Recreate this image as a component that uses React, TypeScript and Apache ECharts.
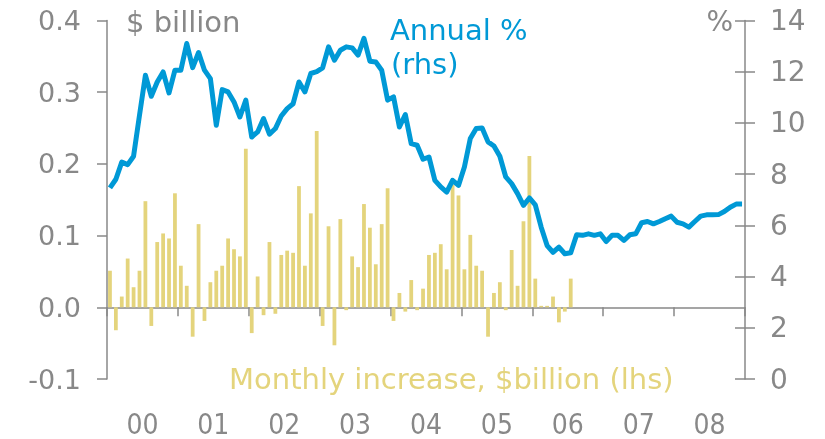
import React, { useEffect, useRef } from "react";
import * as echarts from "echarts";

const years = ["00", "01", "02", "03", "04", "05", "06", "07", "08"];
const months: string[] = [];
years.forEach((y) => {
  for (let m = 1; m <= 12; m++) months.push(`${y}-${m}`);
});

const monthlyIncrease = [
  0.051, -0.032, 0.015, 0.068, 0.028, 0.051, 0.148, -0.026, 0.091, 0.103, 0.096, 0.159,
  0.058, 0.03, -0.041, 0.116, -0.019, 0.035, 0.051, 0.058, 0.096, 0.081, 0.071, 0.221,
  -0.036, 0.043, -0.011, 0.091, -0.009, 0.073, 0.079, 0.076, 0.169, 0.058, 0.131, 0.246,
  -0.026, 0.113, -0.053, 0.123, -0.004, 0.071, 0.056, 0.144, 0.111, 0.06, 0.116, 0.166,
  -0.019, 0.02, -0.006, 0.038, -0.004, 0.026, 0.073, 0.076, 0.088, 0.053, 0.171, 0.156,
  0.053, 0.101, 0.058, 0.051, -0.041, 0.02, 0.035, -0.004, 0.08, 0.03, 0.12, 0.211,
  0.04, 0.002, 0.002, 0.015, -0.021, -0.006, 0.04,
];

const annualPct = [
  7.46, 7.8, 8.47, 8.37, 8.7, 10.3, 11.86, 11.04, 11.6, 11.99, 11.17, 12.06,
  12.06, 13.1, 12.16, 12.75, 12.06, 11.73, 9.91, 11.3, 11.21, 10.82, 10.23, 10.89,
  9.45, 9.65, 10.17, 9.56, 9.78, 10.27, 10.56, 10.75, 11.6, 11.21, 11.93, 12.0,
  12.15, 12.97, 12.45, 12.84, 12.97, 12.93, 12.65, 13.3, 12.41, 12.38, 12.06, 10.89,
  11.02, 9.84, 10.33, 9.19, 9.13, 8.58, 8.67, 7.76, 7.5, 7.3, 7.76, 7.56,
  8.28, 9.39, 9.78, 9.8, 9.26, 9.1, 8.7, 7.89, 7.63, 7.24, 6.78, 7.07,
  6.8, 5.93, 5.21, 4.95, 5.15, 4.89, 4.93, 5.63, 5.61, 5.67, 5.61, 5.67,
  5.37, 5.61, 5.61, 5.41, 5.63, 5.67, 6.1, 6.15, 6.06, 6.15, 6.26, 6.36,
  6.12, 6.06, 5.93, 6.15, 6.36, 6.41, 6.41, 6.42, 6.54, 6.71, 6.83, 6.83,
];

const GREY = "#888888";
const BLUE = "#0099D6";
const KHAKI = "#E4D47C";
const FONT = '"DejaVu Sans", Verdana, sans-serif';

export default function App() {
  const ref = useRef<HTMLDivElement>(null);
  useEffect(() => {
    if (!ref.current) return;
    const chart = echarts.init(ref.current, undefined, { renderer: "svg" });
    chart.setOption({
      animation: false,
      grid: { left: 107, right: 80, top: 20.5, bottom: 60, containLabel: false },
      xAxis: [
        {
          type: "category",
          data: months,
          boundaryGap: true,
          axisLine: { onZero: true, onZeroAxisIndex: 0, lineStyle: { color: GREY, width: 1.5 } },
          axisTick: {
            show: true,
            length: 9,
            interval: (i: number) => i % 12 === 0,
            lineStyle: { color: GREY, width: 1.5 },
          },
          axisLabel: { show: false },
          splitLine: { show: false },
        },
        {
          type: "value",
          min: 0,
          max: 108,
          interval: 6,
          position: "bottom",
          axisLine: { show: false, onZero: false },
          axisTick: { show: false },
          splitLine: { show: false },
          axisLabel: {
            margin: 31,
            color: GREY,
            fontSize: 28,
            fontFamily: '"Liberation Sans Narrow", "DejaVu Sans Condensed", sans-serif',
            formatter: (v: number) =>
              v % 12 === 6 ? years[Math.floor(v / 12)] ?? "" : "",
          },
        },
      ],
      yAxis: [
        {
          type: "value",
          position: "left",
          min: -0.1,
          max: 0.4,
          interval: 0.1,
          axisLine: { show: true, lineStyle: { color: GREY, width: 1.5 } },
          axisTick: { show: true, length: 10, lineStyle: { color: GREY, width: 1.5 } },
          splitLine: { show: false },
          axisLabel: {
            margin: 26,
            color: GREY,
            fontSize: 27,
            fontFamily: FONT,
            formatter: (v: number) => v.toFixed(1),
          },
        },
        {
          type: "value",
          position: "right",
          min: 0,
          max: 14,
          interval: 2,
          axisLine: { show: true, lineStyle: { color: GREY, width: 1.5 } },
          axisTick: { show: true, length: 10, lineStyle: { color: GREY, width: 1.5 } },
          splitLine: { show: false },
          axisLabel: {
            margin: 25,
            color: GREY,
            fontSize: 28,
            fontFamily: FONT,
          },
        },
        {
          type: "value",
          position: "right",
          min: 0,
          max: 14,
          interval: 2,
          axisLine: { show: false },
          axisTick: {
            show: true,
            inside: true,
            length: 10,
            lineStyle: { color: GREY, width: 1.5 },
          },
          splitLine: { show: false },
          axisLabel: { show: false },
        },
      ],
      series: [
        {
          type: "bar",
          xAxisIndex: 0,
          yAxisIndex: 0,
          data: monthlyIncrease,
          barCategoryGap: "36%",
          itemStyle: { color: KHAKI },
          z: 2,
        },
        {
          type: "line",
          xAxisIndex: 0,
          yAxisIndex: 1,
          data: annualPct,
          symbol: "none",
          lineStyle: { color: BLUE, width: 5, join: "round" },
          itemStyle: { color: BLUE },
          z: 3,
        },
      ],
      graphic: [
        {
          type: "text",
          left: 126,
          top: 7,
          style: { text: "$ billion", fill: GREY, font: `29px ${FONT}` },
        },
        {
          type: "text",
          right: 92,
          top: 7,
          style: { text: "%", fill: GREY, font: `28px ${FONT}` },
        },
        {
          type: "text",
          left: 390,
          top: 15,
          style: { text: "Annual %", fill: BLUE, font: `29px ${FONT}` },
        },
        {
          type: "text",
          left: 391,
          top: 49,
          style: { text: "(rhs)", fill: BLUE, font: `29px ${FONT}` },
        },
        {
          type: "text",
          left: 229,
          top: 364,
          style: { text: "Monthly increase, $billion (lhs)", fill: KHAKI, font: `29px ${FONT}` },
        },
      ],
    });
    return () => chart.dispose();
  }, []);
  return (
    <div
      ref={ref}
      style={{ position: "fixed", left: 0, top: 0, width: 825, height: 439 }}
    />
  );
}
